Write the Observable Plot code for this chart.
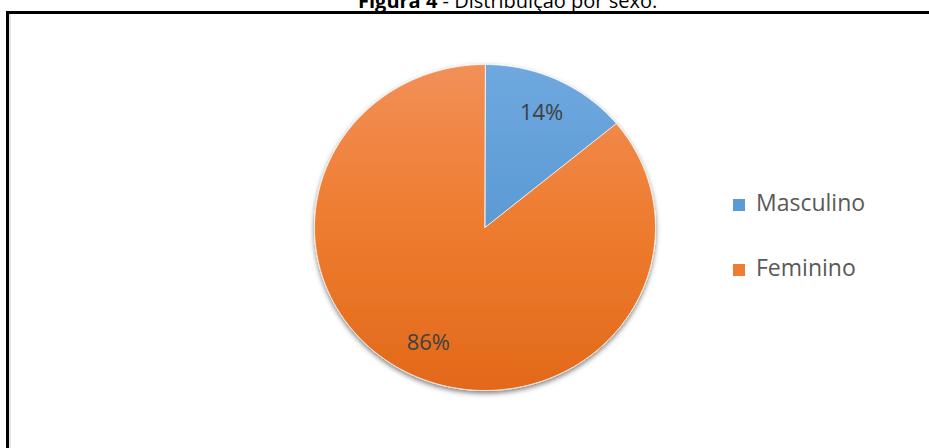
<!DOCTYPE html>
<html>
<head>
<meta charset="utf-8">
<script src="https://cdn.jsdelivr.net/npm/d3@7"></script>
<script src="https://cdn.jsdelivr.net/npm/@observablehq/plot@0.6"></script>
<style>
  html, body { margin: 0; padding: 0; background: #fff; width: 929px; height: 448px; overflow: hidden; }
  body { position: relative; font-family: "Open Sans", sans-serif; }
  #frame { position: absolute; left: 6px; top: 11px; width: 1000px; height: 1000px;
           border-left: 3px solid #000; border-top: 3px solid #000; box-shadow: inset 2px 0 0 #e6e6e6; }
  #title { position: absolute; left: 358px; top: -9.3px; font-size: 20px; line-height: 20px; color: #000; white-space: nowrap; }
  #title b { font-weight: 700; }
  #chart { position: absolute; left: 0; top: 0; }
  .leg { position: absolute; left: 733px; font-size: 23px; line-height: 23px; color: #595959; white-space: nowrap; }
  .leg .sw { position: absolute; left: 0; width: 12px; height: 12px; }
  .leg .lb { position: absolute; left: 23px; top: 0; }
</style>
</head>
<body>
<div id="frame"></div>
<div id="title"><b>Figura 4</b> - Distribuição por sexo.</div>
<div id="chart"></div>
<div id="legend"></div>
<script>
const categories = ["Masculino", "Feminino"];
const values = [14, 86];
const labels = ["14%", "86%"];

const gradIds = ["gBlue", "gOrange"];
const swatch = ["#5B9BD5", "#ED7D31"];

const pie = d3.pie().sort(null).value(d => d.value)(
  categories.map((c, i) => ({cat: c, value: values[i], label: labels[i], grad: `url(#${gradIds[i]})`}))
);

const pts = [];
for (const a of pie) {
  pts.push({cat: a.data.cat, grad: a.data.grad, x: 0, y: 0});
  const n = Math.max(2, Math.ceil((a.endAngle - a.startAngle) / (Math.PI / 360)));
  for (let k = 0; k <= n; k++) {
    const t = a.startAngle + (a.endAngle - a.startAngle) * k / n;
    pts.push({cat: a.data.cat, grad: a.data.grad, x: Math.sin(t), y: -Math.cos(t)});
  }
}
const labelPts = pie.map(a => {
  const m = (a.startAngle + a.endAngle) / 2;
  return {label: a.data.label, x: 0.78 * Math.sin(m), y: -0.78 * Math.cos(m)};
});

const chart = Plot.plot({
  width: 929,
  height: 448,
  margin: 0,
  style: {background: "transparent", overflow: "visible"},
  x: {domain: [-1, 1], range: [314, 655], axis: null},
  y: {domain: [-1, 1], range: [64, 390], axis: null},
  color: {type: "identity"},
  marks: [
    Plot.line(pts, {x: "x", y: "y", z: "cat", fill: "grad", stroke: "#ffffff", strokeWidth: 0.8, curve: "linear-closed"}),
    Plot.text(labelPts, {x: "x", y: "y", text: "label", fontSize: 22, fill: "#404040", fontFamily: "Open Sans"})
  ]
});

const svg = d3.select(chart);
svg.insert("defs", ":first-child").html(`
  <linearGradient id="gBlue" gradientUnits="userSpaceOnUse" x1="0" y1="64" x2="0" y2="390">
    <stop offset="0" stop-color="#6FA8DF"/>
    <stop offset="0.5" stop-color="#5B9AD4"/>
    <stop offset="1" stop-color="#4A88C6"/>
  </linearGradient>
  <linearGradient id="gOrange" gradientUnits="userSpaceOnUse" x1="0" y1="64" x2="0" y2="390">
    <stop offset="0" stop-color="#F29058"/>
    <stop offset="0.5" stop-color="#EE7B2E"/>
    <stop offset="1" stop-color="#E2691A"/>
  </linearGradient>
  <filter id="shadow" x="-20%" y="-20%" width="140%" height="140%">
    <feDropShadow dx="0" dy="2.5" stdDeviation="2.5" flood-color="#000" flood-opacity="0.5"/>
  </filter>`);
svg.select('g[aria-label="line"]').attr("filter", "url(#shadow)");
document.getElementById("chart").appendChild(chart);

const legTops = [191.3, 256.3];
const legend = document.getElementById("legend");
categories.forEach((c, i) => {
  const d = document.createElement("div");
  d.className = "leg";
  d.style.top = legTops[i] + "px";
  d.innerHTML = `<span class="sw" style="top:8px;background:${swatch[i]}"></span><span class="lb">${c}</span>`;
  legend.appendChild(d);
});
</script>
</body>
</html>
